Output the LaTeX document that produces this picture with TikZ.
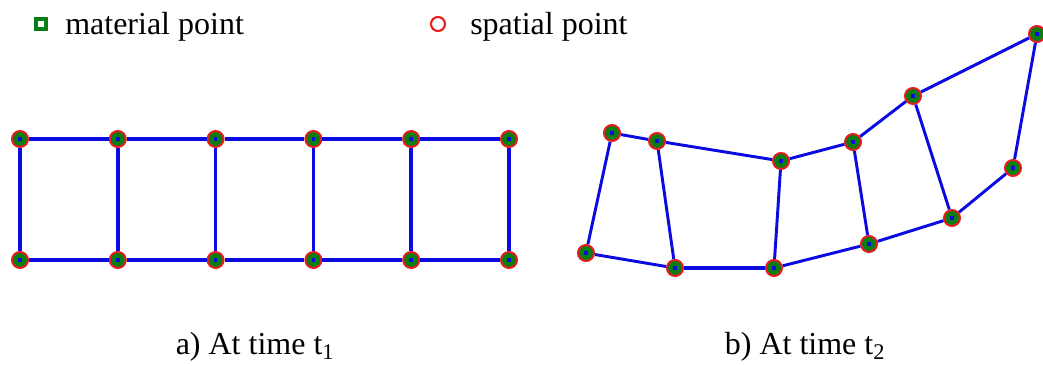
\documentclass[tikz,border=0pt]{standalone}
\usepackage{fontspec}
\setmainfont{Liberation Serif}
\definecolor{ptred}{RGB}{232,28,28}
\definecolor{ptgreen}{RGB}{10,125,20}
\definecolor{ptblue}{RGB}{10,10,225}
\begin{document}
\begin{tikzpicture}[x=0.75pt, y=-0.75pt,
    spatialpt/.style={circle, draw=ptred, line width=1.5pt, fill=ptgreen,
      minimum size=12pt, inner sep=0pt,
      path picture={\fill[ptblue] ([shift={(-1.3pt,-1.3pt)}]path picture bounding box.center)
        rectangle ++(2.6pt,2.6pt);}},
    link/.style={ptblue, line width=2.2pt},
    gridlink/.style={ptblue, line width=2.8pt},
    lbl/.style={font=\fontsize{24}{28}\selectfont, inner sep=0pt}]
    \useasboundingbox (0,0) rectangle (1043,366);
    % legend
    \node[draw=ptgreen, line width=2.8pt, fill=white, minimum size=7pt, inner sep=0pt]
      (matkey) at (41,24) {};
    \node[lbl, anchor=base west] (matlbl) at (65,35) {material point};
    \node[circle, draw=ptred, line width=1.6pt, minimum size=10.5pt, inner sep=0pt]
      (spakey) at (438,24) {};
    \node[lbl, anchor=base west] (spalbl) at (470,35) {spatial point};
    % a) regular grid
    \foreach \i in {0,...,5} {
      \node[spatialpt] (t\i) at ({20+97.8*\i}, 139) {};
      \node[spatialpt] (b\i) at ({20+97.8*\i}, 260) {};
      \draw[gridlink] (t\i) -- (b\i);
    }
    \foreach \i [remember=\i as \p (initially 0)] in {1,...,5} {
      \draw[gridlink] (t\p) -- (t\i);
      \draw[gridlink] (b\p) -- (b\i);
    }
    % b) deformed grid
    \foreach \n/\x/\y in {1/612/133, 2/657/141, 3/781/161, 4/853/142, 5/913/96, 6/1037/34}
      \node[spatialpt] (u\n) at (\x,\y) {};
    \foreach \n/\x/\y in {1/586/253, 2/675/268, 3/774/268, 4/869/244, 5/952/218, 6/1013/168}
      \node[spatialpt] (l\n) at (\x,\y) {};
    \foreach \n in {1,...,6}
      \draw[link] (u\n) -- (l\n);
    \foreach \n [remember=\n as \p (initially 1)] in {2,...,6} {
      \draw[link] (u\p) -- (u\n);
      \draw[link] (l\p) -- (l\n);
    }
    \draw[gridlink] (l2) -- (l3);
    % captions
    \node[lbl, anchor=base] (capa) at (255,355) {a) At time t\textsubscript{1}};
    \node[lbl, anchor=base] (capb) at (805,355) {b) At time t\textsubscript{2}};
\end{tikzpicture}
\end{document}
